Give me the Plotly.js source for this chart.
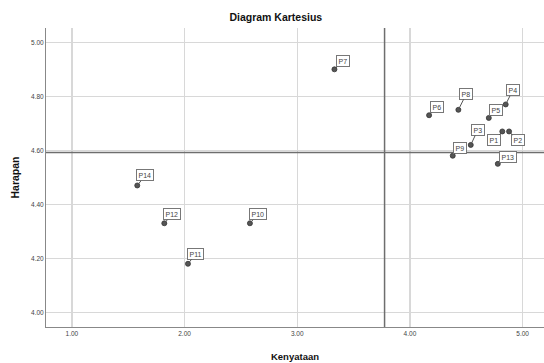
<!DOCTYPE html>
<html><head><meta charset="utf-8">
<script src="https://cdn.plot.ly/plotly-3.0.1.min.js"></script>
<style>html,body{margin:0;padding:0;background:#fff}#c{width:544px;height:363px}</style>
</head><body><div id="c"></div>
<script>
// data
const labels = ["P1","P2","P3","P4","P5","P6","P7","P8","P9","P10","P11","P12","P13","P14"];
const kenyataan = [4.82,4.88,4.54,4.85,4.70,4.17,3.33,4.43,4.38,2.58,2.03,1.82,4.78,1.58];
const harapan   = [4.67,4.67,4.62,4.77,4.72,4.73,4.90,4.75,4.58,4.33,4.18,4.33,4.55,4.47];
const meanKenyataan = 3.775;
const meanHarapan = 4.592;
const xTicks = [1,2,3,4,5];
const yTicks = [4.0,4.2,4.4,4.6,4.8,5.0];

// label offsets (style)
const offX = {P1:-8,P2:9,P3:7,P4:7,P5:7,P6:8,P7:9,P8:8,P9:7,P10:8,P11:8,P12:8,P13:10,P14:8};
const offY = {P1:9,P2:9,P3:-15,P4:-14,P5:-8,P6:-8,P7:-8,P8:-16,P9:-8,P10:-9,P11:-10,P12:-9,P13:-7,P14:-10};

const xr = [0.77,5.19], yr = [3.946,5.053];

const traces = [
  {x:[meanKenyataan,meanKenyataan], y:yr, mode:'lines', line:{color:'#6e6e6e',width:1.5}, hoverinfo:'skip', showlegend:false},
  {x:xr, y:[meanHarapan,meanHarapan], mode:'lines', line:{color:'#6e6e6e',width:1.5}, hoverinfo:'skip', showlegend:false},
  {x:kenyataan, y:harapan, mode:'markers', type:'scatter',
   marker:{size:5,color:'#555',line:{color:'#333',width:0.8}}, showlegend:false}
];

const annotations = labels.map((l,i)=>({
  x:kenyataan[i], y:harapan[i], text:l, xref:'x', yref:'y',
  showarrow:true, arrowhead:0, arrowwidth:1, arrowcolor:'#555',
  ax:offX[l], ay:offY[l], standoff:2,
  font:{family:'Liberation Sans, Arial, sans-serif', size:7, color:'#444'},
  bgcolor:'#fff', bordercolor:'#777', borderwidth:1, borderpad:1.5
}));

const layout = {
  width:544, height:363,
  margin:{l:46,r:0,t:28,b:36},
  paper_bgcolor:'#fff', plot_bgcolor:'#fff',
  font:{family:'Liberation Sans, Arial, sans-serif', color:'#222'},
  title:{text:'Diagram Kartesius', font:{size:10.5,color:'#111',weight:'bold'}, x:0.507, xref:'container', y:0.951, yref:'container', yanchor:'middle'},
  xaxis:{range:xr, tickvals:xTicks, tickformat:'.2f', showgrid:true, gridcolor:'#d8d8d8', gridwidth:1.3,
    zeroline:false, showline:true, linecolor:'#888', linewidth:1, ticks:'', tickfont:{size:6.5,color:'#444'},
    title:{text:'Kenyataan', font:{size:9.5,color:'#111',weight:'bold'}, standoff:17}},
  yaxis:{range:yr, tickvals:yTicks, tickformat:'.2f', showgrid:true, gridcolor:'#d8d8d8', gridwidth:1.3,
    zeroline:false, showline:true, linecolor:'#888', linewidth:1, ticks:'', tickfont:{size:6.5,color:'#444'},
    title:{text:'Harapan', font:{size:10.5,color:'#111',weight:'bold'}, standoff:9}},
  annotations:annotations
};
Plotly.newPlot('c', traces, layout, {displayModeBar:false, staticPlot:true});
</script></body></html>
